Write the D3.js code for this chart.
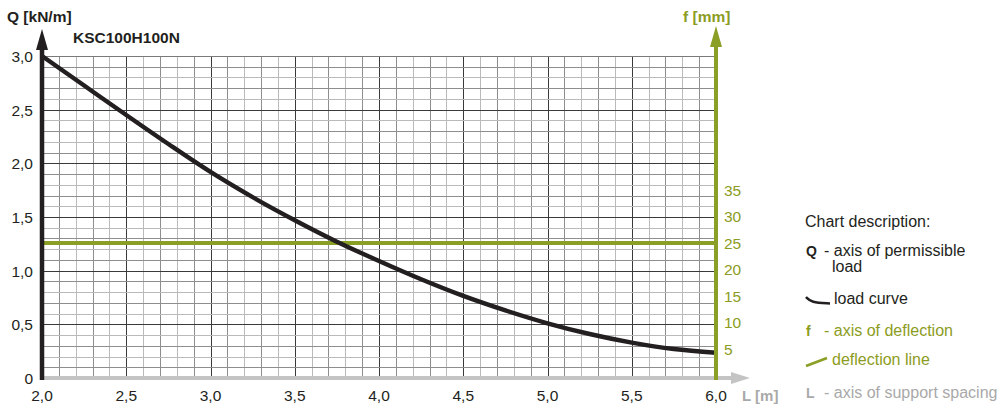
<!DOCTYPE html>
<html>
<head>
<meta charset="utf-8">
<script src="https://cdn.jsdelivr.net/npm/d3@7"></script>
<style>
  html, body { margin: 0; padding: 0; background: #fff; }
  svg { display: block; font-family: "Liberation Sans", Arial, sans-serif; }
</style>
</head>
<body>
<svg id="chart" width="1000" height="407"></svg>
<script>
// ---- data ----
const spanL = [2.0, 2.25, 2.5, 2.75, 3.0, 3.25, 3.5, 3.75, 4.0, 4.25, 4.5, 4.75, 5.0, 5.25, 5.5, 5.75, 6.0];
const loadQ = [3.00, 2.725, 2.45, 2.18, 1.92, 1.685, 1.47, 1.27, 1.09, 0.92, 0.765, 0.63, 0.51, 0.41, 0.33, 0.27, 0.235];
const deflectionLimit = 25; // mm
const xTicks = [2.0, 2.5, 3.0, 3.5, 4.0, 4.5, 5.0, 5.5, 6.0];
const qTicks = [0, 0.5, 1.0, 1.5, 2.0, 2.5, 3.0];
const fTicks = [5, 10, 15, 20, 25, 30, 35];
const chartTitle = "KSC100H100N";
const legendItems = [
  { key: "Q", text: ["- axis of permissible", "load"], color: "#231f20", type: "key" },
  { key: null, text: ["load curve"], color: "#231f20", type: "curve" },
  { key: "f", text: ["- axis of deflection"], color: "#8c9c22", type: "key" },
  { key: null, text: ["deflection line"], color: "#8c9c22", type: "line" },
  { key: "L", text: ["- axis of support spacing"], color: "#a9a9a9", type: "key" }
];

const fmt = v => (v === 0 ? "0" : v.toFixed(1).replace(".", ","));
const DARK = "#231f20", GREEN = "#8a9f26", GREEN_T = "#8c9c22", GRAY = "#c4c4c4", GRAY_T = "#a9a9a9";

const svg = d3.select("#chart");
const x = d3.scaleLinear().domain([2, 6]).range([42, 716]);
const y = d3.scaleLinear().domain([0, 3]).range([378, 56]);
const f = d3.scaleLinear().domain([-0.5, 60.3]).range([378, 56]);

// ---- grid ----
const grid = svg.append("g");
d3.range(1, 40).forEach(k => {
  const xv = Math.round(x(2 + k * 0.1)) + 0.5;
  const col = k % 5 === 0 ? "#3a3a3a" : (k % 2 === 1 ? "#8e8e8e" : "#bababa");
  grid.append("line").attr("x1", xv).attr("x2", xv).attr("y1", y(3)).attr("y2", y(0))
    .attr("stroke", col).attr("stroke-width", 1);
});
d3.range(1, 31).forEach(k => {
  const yv = Math.round(y(k * 0.1)) + 0.5;
  const col = k % 5 === 0 ? (k === 30 ? "#7a7a7a" : "#3a3a3a") : (k % 2 === 1 ? "#8e8e8e" : "#bababa");
  grid.append("line").attr("x1", x(2)).attr("x2", x(6)).attr("y1", yv).attr("y2", yv)
    .attr("stroke", col).attr("stroke-width", 1);
});

// ---- deflection line ----
svg.append("line").attr("x1", x(2)).attr("x2", x(6))
  .attr("y1", f(deflectionLimit)).attr("y2", f(deflectionLimit))
  .attr("stroke", GREEN).attr("stroke-width", 4);

// ---- load curve ----
const pts = spanL.map((l, i) => [l, loadQ[i]]);
svg.append("path").datum(pts)
  .attr("d", d3.line().x(d => x(d[0])).y(d => y(d[1])).curve(d3.curveCatmullRom.alpha(0.5)))
  .attr("fill", "none").attr("stroke", DARK).attr("stroke-width", 4.4);

// ---- axes ----
svg.append("line").attr("x1", x(2)).attr("x2", 731).attr("y1", y(0)).attr("y2", y(0))
  .attr("stroke", GRAY).attr("stroke-width", 4);
svg.append("path").attr("d", `M731,${y(0) - 6}L750,${y(0)}L731,${y(0) + 6}Z`).attr("fill", GRAY);
svg.append("line").attr("x1", x(6)).attr("x2", x(6)).attr("y1", y(0) + 2).attr("y2", 46)
  .attr("stroke", GREEN).attr("stroke-width", 4);
svg.append("path").attr("d", `M${x(6) - 6},47L${x(6)},26L${x(6) + 6},47Z`).attr("fill", GREEN);
svg.append("line").attr("x1", x(2)).attr("x2", x(2)).attr("y1", y(0) + 2).attr("y2", 48)
  .attr("stroke", DARK).attr("stroke-width", 4.5);
svg.append("path").attr("d", `M${x(2) - 6},50L${x(2)},29L${x(2) + 6},50Z`).attr("fill", DARK);

// ---- tick labels ----
svg.append("g").selectAll("text").data(qTicks).join("text")
  .attr("x", 33).attr("y", d => y(d) + 6).attr("text-anchor", "end")
  .attr("font-size", 15.5).attr("fill", DARK).text(fmt);
svg.append("g").selectAll("text").data(xTicks).join("text")
  .attr("x", d => x(d)).attr("y", 401).attr("text-anchor", "middle")
  .attr("font-size", 15.5).attr("fill", DARK).text(fmt);
svg.append("g").selectAll("text").data(fTicks).join("text")
  .attr("x", 724).attr("y", d => f(d) + 6).attr("text-anchor", "start")
  .attr("font-size", 15.5).attr("fill", GREEN_T).text(d => d);

// ---- axis titles ----
svg.append("text").attr("x", 7).attr("y", 22).attr("font-size", 15.5).attr("font-weight", "bold")
  .attr("fill", DARK).text("Q [kN/m]");
svg.append("text").attr("x", 73).attr("y", 43).attr("font-size", 15.5).attr("font-weight", "bold")
  .attr("fill", DARK).text(chartTitle);
svg.append("text").attr("x", 683).attr("y", 22).attr("font-size", 15.5).attr("font-weight", "bold")
  .attr("fill", GREEN_T).text("f [mm]");
svg.append("text").attr("x", 742).attr("y", 401).attr("font-size", 15).attr("font-weight", "bold")
  .attr("fill", GRAY_T).text("L [m]");

// ---- legend ----
const lg = svg.append("g").attr("transform", "translate(805,0)");
lg.append("text").attr("x", 0).attr("y", 227).attr("font-size", 16).attr("fill", DARK).text("Chart description:");
const rowY = [256, 304, 336, 365, 398];
legendItems.forEach((it, i) => {
  const yy = rowY[i];
  if (it.type === "key") {
    lg.append("text").attr("x", 1).attr("y", yy).attr("font-size", 14).attr("font-weight", "bold")
      .attr("fill", it.color).text(it.key);
    it.text.forEach((t, j) => {
      lg.append("text").attr("x", j === 0 ? 19 : 27).attr("y", yy + j * 16).attr("font-size", 16)
        .attr("fill", it.color).text(t);
    });
  } else if (it.type === "curve") {
    lg.append("path").datum([[1, -7], [6, -1.5], [25, -0.5]])
      .attr("d", d3.line().x(d => d[0]).y(d => yy + d[1]).curve(d3.curveBasis))
      .attr("fill", "none").attr("stroke", it.color).attr("stroke-width", 2.5);
    lg.append("text").attr("x", 29).attr("y", yy).attr("font-size", 16).attr("fill", it.color).text(it.text[0]);
  } else {
    lg.append("line").attr("x1", 1).attr("y1", yy + 1).attr("x2", 22).attr("y2", yy - 7)
      .attr("stroke", GREEN).attr("stroke-width", 2.5);
    lg.append("text").attr("x", 27).attr("y", yy).attr("font-size", 16).attr("fill", it.color).text(it.text[0]);
  }
});
</script>
</body>
</html>
